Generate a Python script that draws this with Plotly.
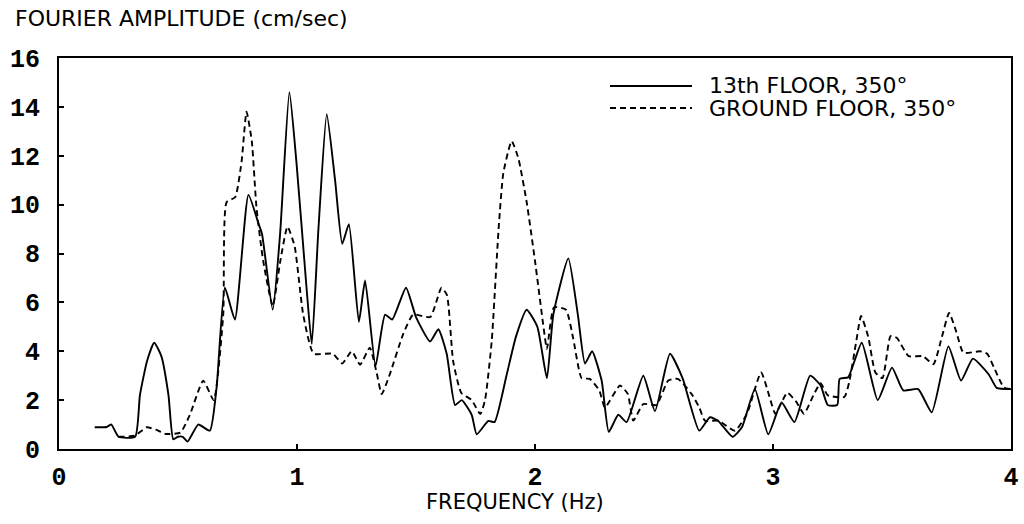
import plotly.graph_objects as go

# 13th floor, 350 deg (solid)
f13 = [0.15, 0.20, 0.22, 0.25, 0.32, 0.34, 0.37, 0.40, 0.43, 0.46, 0.48, 0.50, 0.52, 0.54,
       0.585, 0.634, 0.662, 0.697, 0.739, 0.796, 0.839, 0.853, 0.898, 0.929, 0.968, 0.998,
       1.04, 1.062, 1.09, 1.125, 1.16, 1.19, 1.218, 1.26, 1.286, 1.33, 1.37, 1.40, 1.458,
       1.50, 1.559, 1.594, 1.629, 1.664, 1.692, 1.734, 1.755, 1.804, 1.83, 1.88, 1.92,
       1.965, 2.01, 2.05, 2.077, 2.14, 2.18, 2.21, 2.24, 2.28, 2.31, 2.35, 2.385, 2.455,
       2.504, 2.567, 2.62, 2.69, 2.735, 2.77, 2.83, 2.87, 2.924, 2.98, 3.036, 3.09, 3.156,
       3.20, 3.23, 3.27, 3.28, 3.316, 3.373, 3.44, 3.50, 3.547, 3.61, 3.667, 3.737, 3.79,
       3.84, 3.906, 3.94, 4.0]
a13 = [0.89, 0.9, 1.0, 0.5, 0.5, 2.2, 3.6, 4.35, 3.8, 2.2, 0.4, 0.5, 0.5, 0.3,
       1.0, 0.75, 2.5, 6.6, 5.3, 10.4, 9.2, 8.8, 5.7, 8.8, 14.6, 11.7,
       6.6, 4.3, 9.0, 13.7, 11.0, 8.4, 9.2, 5.2, 6.9, 3.4, 5.5, 5.3, 6.6,
       5.4, 4.4, 4.9, 3.9, 1.8, 2.0, 1.4, 0.6, 1.15, 1.1, 3.0, 4.6,
       5.7, 5.0, 2.9, 5.5, 7.8, 5.5, 3.5, 4.0, 2.8, 0.7, 1.4, 1.1, 3.0,
       1.55, 3.9, 2.9, 0.75, 1.3, 1.15, 0.5, 0.9, 2.45, 0.6, 1.9, 1.1, 3.0,
       2.6, 1.8, 1.8, 2.87, 2.94, 4.35, 2.0, 3.33, 2.4, 2.45, 1.5, 4.2, 2.8,
       3.7, 3.06, 2.5, 2.45]

# Ground floor, 350 deg (dashed)
fgr = [0.25, 0.32, 0.368, 0.41, 0.445, 0.51, 0.55, 0.606, 0.65, 0.69, 0.704, 0.74, 0.767,
       0.788, 0.81, 0.83, 0.858, 0.898, 0.93, 0.96, 0.99, 1.026, 1.07, 1.15, 1.19, 1.23,
       1.265, 1.306, 1.335, 1.356, 1.39, 1.446, 1.488, 1.56, 1.607, 1.63, 1.656, 1.69,
       1.734, 1.77, 1.79, 1.818, 1.847, 1.867, 1.902, 1.93, 1.965, 2.0, 2.037, 2.05, 2.08,
       2.13, 2.16, 2.196, 2.23, 2.27, 2.294, 2.357, 2.39, 2.413, 2.455, 2.51, 2.56, 2.60,
       2.658, 2.69, 2.714, 2.77, 2.84, 2.89, 2.95, 2.99, 3.01, 3.06, 3.10, 3.13, 3.17,
       3.20, 3.23, 3.30, 3.32, 3.35, 3.37, 3.40, 3.43, 3.46, 3.494, 3.52, 3.57, 3.63,
       3.674, 3.71, 3.74, 3.77, 3.80, 3.87, 3.90, 3.93, 3.97, 4.0]
agr = [0.5, 0.55, 0.89, 0.78, 0.62, 0.67, 1.4, 2.8, 2.0, 5.5, 10.1, 10.3, 11.75,
       13.8, 12.6, 9.85, 7.7, 5.85, 7.7, 9.1, 8.3, 5.5, 3.9, 3.9, 3.5, 4.0,
       3.45, 4.15, 3.1, 2.25, 3.06, 4.7, 5.5, 5.4, 6.6, 6.3, 3.6, 2.3,
       2.0, 1.43, 2.0, 4.4, 9.0, 11.3, 12.6, 11.9, 10.1, 7.7, 4.9, 4.1, 5.8,
       5.7, 4.55, 2.9, 2.87, 2.4, 1.7, 2.6, 2.25, 1.16, 1.84, 1.8, 2.8, 2.87,
       2.25, 1.7, 1.16, 1.16, 0.75, 1.43, 3.13, 1.98, 1.44, 2.3, 1.9, 1.44, 2.2,
       2.69, 2.2, 2.13, 2.73, 4.42, 5.44, 4.6, 3.13, 2.9, 4.62, 4.55, 3.8, 3.8,
       3.47, 4.6, 5.57, 4.8, 3.94, 4.0, 3.9, 3.3, 2.52, 2.45]

x_ticks = [0, 1, 2, 3, 4]
y_ticks = [0, 2, 4, 6, 8, 10, 12, 14, 16]
series_names = ["13th FLOOR, 350°", "GROUND FLOOR, 350°"]
series_dash = ["solid", "6px,4px"]

fig = go.Figure()
fig.add_trace(go.Scatter(x=f13, y=a13, mode="lines", name=series_names[0], showlegend=False,
                         line=dict(color="black", width=1.9, dash=series_dash[0], shape="spline", smoothing=0.5)))
fig.add_trace(go.Scatter(x=fgr, y=agr, mode="lines", name=series_names[1], showlegend=False,
                         line=dict(color="black", width=1.9, dash=series_dash[1], shape="spline", smoothing=0.5)))

tick_font = dict(family="Liberation Mono", size=25, color="black", weight="bold")
axis_common = dict(showgrid=False, zeroline=False, showline=True, linecolor="black",
                   linewidth=1.8, mirror=True, ticks="inside", ticklen=5, tickcolor="black",
                   tickwidth=1.5, tickfont=tick_font, automargin=False)

fig.update_xaxes(range=[0, 4], tickvals=x_ticks, ticktext=[str(t) for t in x_ticks],
                 ticklabelstandoff=4, **axis_common)
fig.update_yaxes(range=[0, 16], tickvals=y_ticks, ticktext=[str(t) for t in y_ticks],
                 ticklabelstandoff=12, **axis_common)

# axis titles
fig.add_annotation(text="FOURIER AMPLITUDE (cm/sec)", xref="paper", yref="paper",
                   x=-0.0483, y=1.102, xanchor="left", yanchor="middle", showarrow=False,
                   font=dict(family="DejaVu Sans", size=22, color="black"))
fig.add_annotation(text="FREQUENCY (Hz)", xref="paper", yref="paper",
                   x=0.479, y=-0.1356, xanchor="center", yanchor="middle", showarrow=False,
                   font=dict(family="DejaVu Sans", size=21, color="black"))

# legend (drawn as key lines + labels)
leg_y = [0.9284, 0.8721]
for name, dash, yy in zip(series_names, series_dash, leg_y):
    fig.add_shape(type="line", xref="paper", yref="paper", x0=0.5788, x1=0.6649, y0=yy, y1=yy,
                  line=dict(color="black", width=1.9, dash=dash))
    fig.add_annotation(text=name, xref="paper", yref="paper", x=0.6807, y=yy,
                       xanchor="left", yanchor="middle", showarrow=False,
                       font=dict(family="DejaVu Sans", size=22, color="black"))

fig.update_layout(
    width=1024, height=524,
    margin=dict(l=59, r=13, t=58, b=75),
    paper_bgcolor="white", plot_bgcolor="white",
    showlegend=False,
)

fig.write_html("out.html")
